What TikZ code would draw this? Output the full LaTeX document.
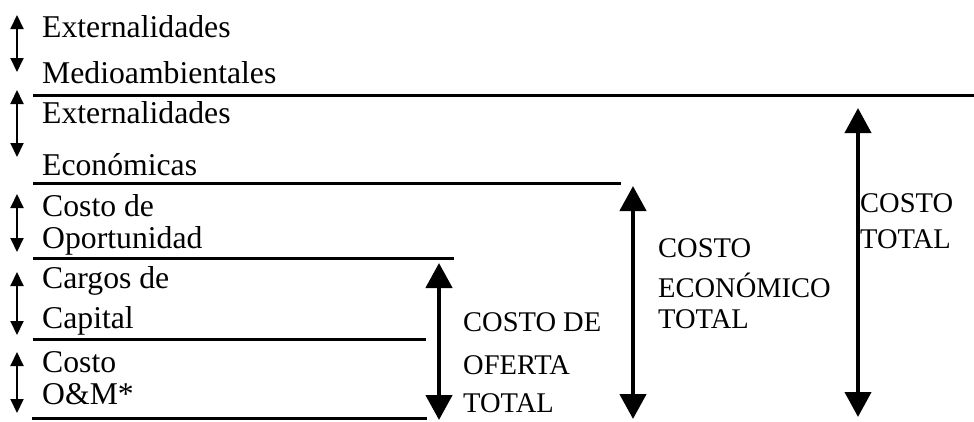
\documentclass[tikz,border=0pt]{standalone}
\usepackage{fontspec}
\setmainfont{Liberation Serif}
\usetikzlibrary{arrows.meta}
\begin{document}
\begin{tikzpicture}[x=1pt,y=-1pt,
  lbl/.style={anchor=base west,inner sep=0pt,font=\fontsize{31.7}{38}\selectfont},
  rlbl/.style={anchor=base west,inner sep=0pt,font=\fontsize{28.5}{34}\selectfont},
  sepline/.style={line width=3pt},
  smallarrow/.style={line width=2pt,{Triangle[width=13pt,length=14pt]}-{Triangle[width=13pt,length=14pt]}},
  bigarrow/.style={line width=4.5pt,{Triangle[width=26pt,length=25pt]}-{Triangle[width=26pt,length=25pt]}}]
\useasboundingbox (0,0) rectangle (974,421);
% left texts
\node[lbl] (t1a) at (42,37) {Externalidades};
\node[lbl] (t1b) at (42,83) {Medioambientales};
\node[lbl] (t2a) at (42,123) {Externalidades};
\node[lbl] (t2b) at (42,175) {Económicas};
\node[lbl] (t3a) at (42,216) {Costo de};
\node[lbl] (t3b) at (42,248) {Oportunidad};
\node[lbl] (t4a) at (42,288) {Cargos de};
\node[lbl] (t4b) at (42,328) {Capital};
\node[lbl] (t5a) at (42,372) {Costo};
\node[lbl] (t5b) at (42,404) {O\&M*};
% small arrows
\coordinate (a1t) at (17,15);  \coordinate (a1b) at (17,72);
\coordinate (a2t) at (17,90);  \coordinate (a2b) at (17,157);
\coordinate (a3t) at (17,194); \coordinate (a3b) at (17,252);
\coordinate (a4t) at (17,272); \coordinate (a4b) at (17,335);
\coordinate (a5t) at (17,352); \coordinate (a5b) at (17,413);
\draw[smallarrow] (a1t) -- (a1b);
\draw[smallarrow] (a2t) -- (a2b);
\draw[smallarrow] (a3t) -- (a3b);
\draw[smallarrow] (a4t) -- (a4b);
\draw[smallarrow] (a5t) -- (a5b);
% separator lines
\coordinate (l1a) at (33,95);  \coordinate (l1b) at (974,95);
\coordinate (l2a) at (33,183); \coordinate (l2b) at (621,183);
\coordinate (l3a) at (33,258); \coordinate (l3b) at (454,258);
\coordinate (l4a) at (33,339); \coordinate (l4b) at (426,339);
\coordinate (l5a) at (32,418); \coordinate (l5b) at (427,418);
\draw[sepline] (l1a) -- (l1b);
\draw[sepline] (l2a) -- (l2b);
\draw[sepline] (l3a) -- (l3b);
\draw[sepline] (l4a) -- (l4b);
\draw[sepline] (l5a) -- (l5b);
% big arrows
\coordinate (b1t) at (439,263); \coordinate (b1b) at (439,420);
\coordinate (b2t) at (633,186); \coordinate (b2b) at (633,419);
\coordinate (b3t) at (858,108); \coordinate (b3b) at (858,417);
\draw[bigarrow] (b1t) -- (b1b);
\draw[bigarrow] (b2t) -- (b2b);
\draw[bigarrow,line width=4pt] (b3t) -- (b3b);
% right labels
\node[rlbl] (r1a) at (463,331) {COSTO DE};
\node[rlbl] (r1b) at (463,374) {OFERTA};
\node[rlbl] (r1c) at (463,412) {TOTAL};
\node[rlbl] (r2a) at (658,257) {COSTO};
\node[rlbl] (r2b) at (658,297) {ECONÓMICO};
\node[rlbl] (r2c) at (658,328) {TOTAL};
\node[rlbl] (r3a) at (860,212) {COSTO};
\node[rlbl] (r3b) at (860,248) {TOTAL};
\end{tikzpicture}
\end{document}
